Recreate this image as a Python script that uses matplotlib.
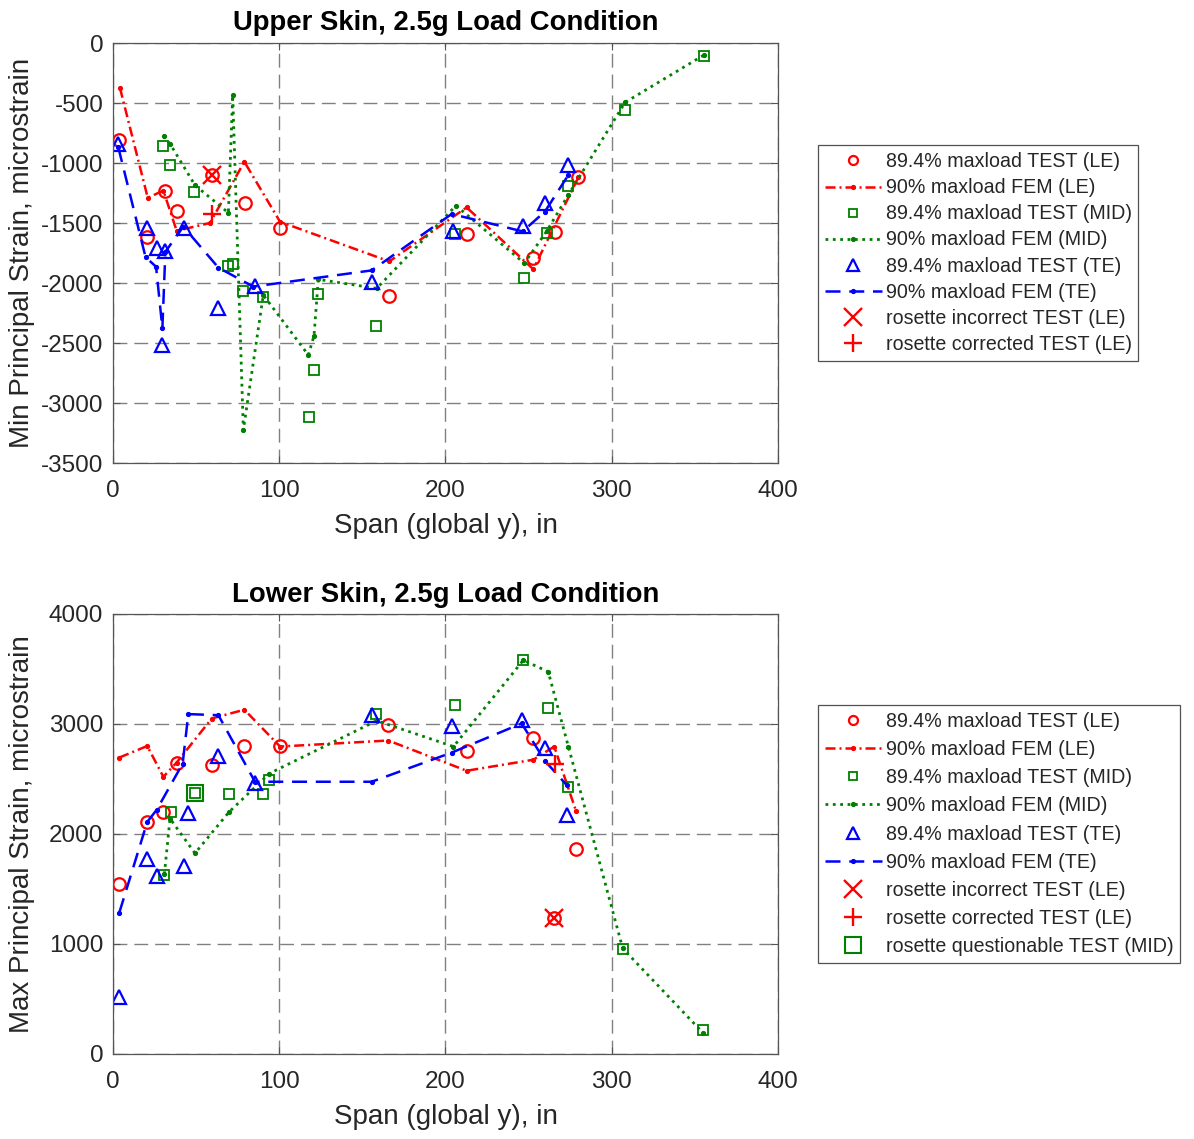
import numpy as np
import matplotlib.pyplot as plt

plt.rcParams['font.family'] = ['Liberation Sans', 'DejaVu Sans']
plt.rcParams['axes.unicode_minus'] = False

# ---- upper skin (min principal strain) ----
up_le_test_x = [3.8, 20.6, 31.3, 38.3, 59.4, 79.4, 100.5, 166.2, 213.1, 252.8, 265.9, 279.9]
up_le_test_y = [-810, -1620, -1230, -1400, -1100, -1330, -1545, -2105, -1590, -1795, -1575, -1120]
up_le_fem_x = [4.2, 20.9, 30.3, 38.3, 58.3, 79.0, 100.5, 166.2, 212.7, 252.8, 279.9]
up_le_fem_y = [-375, -1290, -1230, -1565, -1500, -990, -1490, -1820, -1370, -1885, -1120]

up_mid_test_x = [29.9, 34.3, 48.9, 69.4, 72.0, 78.0, 90.4, 117.9, 120.9, 123.5, 158.2,
                 205.7, 247.2, 260.8, 273.9, 308.0, 355.5]
up_mid_test_y = [-855, -1020, -1245, -1860, -1840, -2070, -2115, -3115, -2725, -2090, -2360,
                 -1590, -1955, -1580, -1190, -560, -110]
up_mid_fem_x = [30.7, 34.3, 49.3, 69.4, 72.0, 78.4, 90.4, 117.5, 120.9, 123.5, 158.6,
                206.3, 247.4, 260.8, 273.9, 308.0, 355.5]
up_mid_fem_y = [-775, -840, -1185, -1415, -435, -3225, -2100, -2600, -2440, -1970, -2045,
                -1355, -1835, -1570, -1265, -495, -100]

up_te_test_x = [3.2, 20.6, 26.3, 29.7, 31.3, 42.7, 63.4, 85.4, 155.6, 204.3, 246.4, 259.8, 273.9]
up_te_test_y = [-845, -1545, -1705, -2520, -1730, -1545, -2210, -2025, -1990, -1565, -1525, -1330, -1015]
up_te_fem_x = [3.2, 19.6, 25.9, 29.7, 31.5, 42.3, 63.4, 84.4, 155.6, 203.7, 246.4, 259.8, 273.9]
up_te_fem_y = [-870, -1785, -1864, -2378, -1740, -1530, -1872, -2030, -1895, -1425, -1570, -1405, -1100]

up_bad_x, up_bad_y = [59.4], [-1100]
up_fix_x, up_fix_y = [59.4], [-1425]

# ---- lower skin (max principal strain) ----
lo_le_test_x = [3.8, 20.6, 30.3, 38.3, 59.4, 79.0, 100.5, 165.6, 212.7, 252.4, 265.2, 278.3]
lo_le_test_y = [1550, 2110, 2200, 2650, 2630, 2800, 2800, 2990, 2755, 2875, 1235, 1860]
lo_le_fem_x = [3.8, 20.6, 30.3, 38.3, 59.4, 79.0, 100.5, 165.6, 212.7, 252.8, 265.4, 278.5]
lo_le_fem_y = [2695, 2800, 2520, 2650, 3050, 3130, 2795, 2850, 2575, 2675, 2795, 2210]

lo_mid_test_x = [30.9, 34.7, 49.3, 69.8, 90.0, 94.0, 158.2, 205.7, 246.8, 261.8, 273.9, 306.6, 354.7]
lo_mid_test_y = [1625, 2200, 2375, 2360, 2360, 2490, 3095, 3170, 3585, 3150, 2425, 955, 220]
lo_mid_fem_x = [30.9, 34.3, 49.3, 69.8, 94.0, 158.6, 204.8, 246.8, 261.8, 273.9, 306.6, 354.7]
lo_mid_fem_y = [1635, 2140, 1825, 2200, 2550, 3030, 2795, 3580, 3475, 2795, 960, 195]

lo_te_test_x = [3.8, 20.6, 26.3, 42.7, 45.3, 63.4, 85.4, 155.6, 203.7, 245.8, 259.8, 272.9]
lo_te_test_y = [520, 1770, 1620, 1710, 2195, 2705, 2460, 3080, 2985, 3040, 2785, 2175]
lo_te_fem_x = [3.8, 20.6, 26.3, 41.9, 45.3, 63.4, 85.4, 155.6, 203.7, 245.8, 259.8, 272.9]
lo_te_fem_y = [1285, 2110, 2220, 2640, 3090, 3080, 2475, 2475, 2740, 3005, 2665, 2445]

lo_bad_x, lo_bad_y = [265.2], [1235]
lo_fix_x, lo_fix_y = [265.6], [2640]
lo_quest_x, lo_quest_y = [49.3], [2375]

RED = '#ff0000'
GREEN = '#008000'
BLUE = '#0000ff'
TXT = '#262626'


def draw_panel(ax, d, title, ylabel, ylim, yticks, spacing):
    ax.plot(d['le_test'][0], d['le_test'][1], 'o', color=RED, mfc='none', ms=9, mew=1.6,
            label='89.4% maxload TEST (LE)')
    ax.plot(d['le_fem'][0], d['le_fem'][1], color=RED, marker='.', ms=5.5, lw=1.8,
            linestyle=(0, (4, 1.6, 0.8, 1.6)), label='90% maxload FEM (LE)')
    ax.plot(d['mid_test'][0], d['mid_test'][1], 's', color=GREEN, mfc='none', ms=6.5, mew=1.3,
            label='89.4% maxload TEST (MID)')
    ax.plot(d['mid_fem'][0], d['mid_fem'][1], ':', color=GREEN, marker='.', ms=5.5, lw=2,
            label='90% maxload FEM (MID)')
    ax.plot(d['te_test'][0], d['te_test'][1], '^', color=BLUE, mfc='none', ms=9.5, mew=1.6,
            label='89.4% maxload TEST (TE)')
    ax.plot(d['te_fem'][0], d['te_fem'][1], color=BLUE, marker='.', ms=5.5, lw=1.8,
            linestyle=(0, (6, 3.5)), label='90% maxload FEM (TE)')
    ax.plot(d['bad'][0], d['bad'][1], 'x', color=RED, ms=13, mew=1.7,
            label='rosette incorrect TEST (LE)')
    ax.plot(d['fix'][0], d['fix'][1], '+', color=RED, ms=13, mew=1.7,
            label='rosette corrected TEST (LE)')
    if 'quest' in d:
        ax.plot(d['quest'][0], d['quest'][1], 's', color=GREEN, mfc='none', ms=12, mew=1.5,
                label='rosette questionable TEST (MID)')

    ax.set_xlim(0, 400)
    ax.set_ylim(*ylim)
    ax.set_xticks([0, 100, 200, 300, 400])
    ax.set_yticks(yticks)
    ax.grid(True, color='#808080', linestyle=(0, (10, 5)), linewidth=1.0)
    ax.set_axisbelow(True)
    for sp in ax.spines.values():
        sp.set_color('#555555')
        sp.set_linewidth(0.9)
    ax.tick_params(direction='in', length=5, colors='#555555', labelcolor=TXT,
                   labelsize=17.5, top=True, right=True)
    ax.tick_params(axis='x', pad=12)
    ax.tick_params(axis='y', pad=7)
    ax.set_title(title, fontsize=19.8, fontweight='bold', pad=9)
    ax.set_xlabel('Span (global y), in', fontsize=20, color=TXT, labelpad=8)
    ax.set_ylabel(ylabel, fontsize=20, color=TXT)
    ax.yaxis.set_label_coords(-0.118, 0.5)

    axc = (ax.get_position().y0 + ax.get_position().y1) / 2
    leg = ax.legend(loc='center left', bbox_to_anchor=(818 / 1194, axc),
                    bbox_transform=ax.figure.transFigure, fontsize=14.1,
                    handlelength=2.9, handletextpad=0.2, labelspacing=spacing,
                    borderpad=0.35, borderaxespad=0, fancybox=False, frameon=True)
    leg.get_frame().set_edgecolor('#262626')
    leg.get_frame().set_linewidth(0.9)
    for t in leg.get_texts():
        t.set_color(TXT)
    hs = leg.legend_handles
    hs[0].set_markersize(6.5)
    hs[2].set_markersize(5.5)
    hs[4].set_markersize(8.5)
    return leg


fig = plt.figure(figsize=(11.94, 11.39), dpi=100)
ax1 = fig.add_axes([113 / 1194, 1 - 463 / 1139, 665 / 1194, 420 / 1139])
ax2 = fig.add_axes([113 / 1194, 1 - 1054 / 1139, 665 / 1194, 440 / 1139])

upper = dict(le_test=(up_le_test_x, up_le_test_y), le_fem=(up_le_fem_x, up_le_fem_y),
             mid_test=(up_mid_test_x, up_mid_test_y), mid_fem=(up_mid_fem_x, up_mid_fem_y),
             te_test=(up_te_test_x, up_te_test_y), te_fem=(up_te_fem_x, up_te_fem_y),
             bad=(up_bad_x, up_bad_y), fix=(up_fix_x, up_fix_y))
lower = dict(le_test=(lo_le_test_x, lo_le_test_y), le_fem=(lo_le_fem_x, lo_le_fem_y),
             mid_test=(lo_mid_test_x, lo_mid_test_y), mid_fem=(lo_mid_fem_x, lo_mid_fem_y),
             te_test=(lo_te_test_x, lo_te_test_y), te_fem=(lo_te_fem_x, lo_te_fem_y),
             bad=(lo_bad_x, lo_bad_y), fix=(lo_fix_x, lo_fix_y),
             quest=(lo_quest_x, lo_quest_y))

draw_panel(ax1, upper, 'Upper Skin, 2.5g Load Condition', 'Min Principal Strain, microstrain',
           (-3500, 0), np.arange(-3500, 1, 500), 0.36)
draw_panel(ax2, lower, 'Lower Skin, 2.5g Load Condition', 'Max Principal Strain, microstrain',
           (0, 4000), np.arange(0, 4001, 1000), 0.47)

fig.savefig('out.png', dpi=100, facecolor='white')
